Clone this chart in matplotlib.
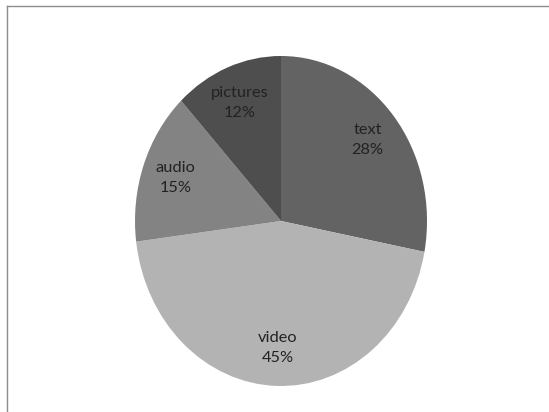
import matplotlib.pyplot as plt
from matplotlib.lines import Line2D

# share of content types
names = ['text', 'video', 'audio', 'pictures']
shares = [28, 45, 15, 12]
colors = ['#636363', '#b3b3b3', '#838383', '#4e4e4e']

plt.rcParams['font.family'] = ['Lato', 'DejaVu Sans']

fig = plt.figure(figsize=(5.49, 4.12), dpi=100)
# pie is slightly taller than wide in the original, so no equal aspect
ax = fig.add_axes([0.2459, 0.0631, 0.5319, 0.801])

labels = [f'{n}\n{v}%' for n, v in zip(names, shares)]
ax.pie(shares, labels=labels, colors=colors, startangle=90, counterclock=False,
       labeldistance=0.77,
       textprops=dict(ha='center', va='center', fontsize=11.8, color='#222222',
                      linespacing=1.55))
ax.set_aspect('auto')
ax.set_xlim(-1, 1)
ax.set_ylim(-1, 1)

# chart-area border (left and top edges only visible)
fig.add_artist(Line2D([7 / 549, 7 / 549], [0, 1 - 6 / 412], color='#8c8c8c', lw=1))
fig.add_artist(Line2D([7 / 549, 1], [1 - 6 / 412, 1 - 6 / 412], color='#8c8c8c', lw=1))

fig.savefig('out.png', dpi=100)
